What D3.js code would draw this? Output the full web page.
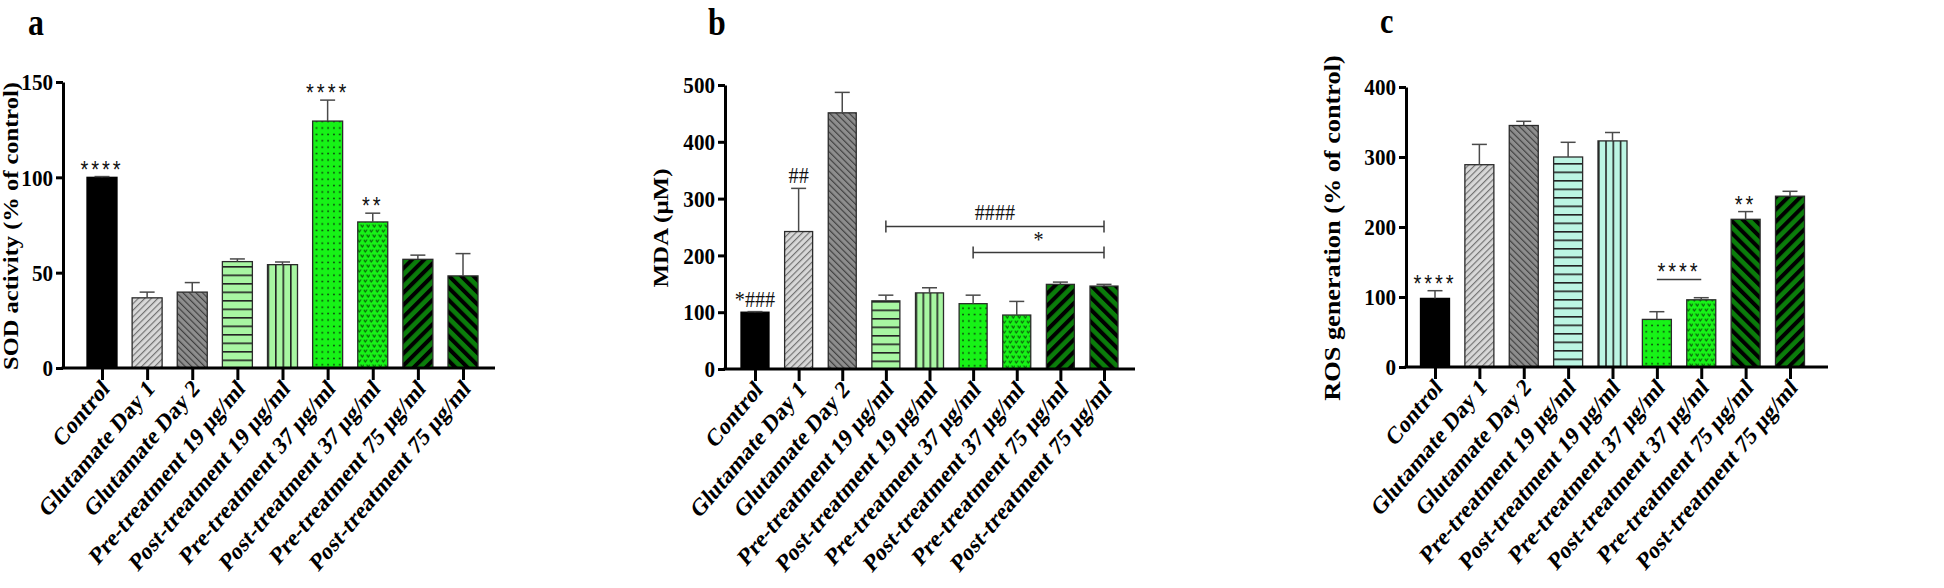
<!DOCTYPE html>
<html><head><meta charset="utf-8">
<script src="https://cdn.jsdelivr.net/npm/d3@7/dist/d3.min.js"></script>
<style>
html,body{margin:0;padding:0;background:#fff;}
svg{display:block;}
</style></head>
<body>
<svg id="chart" width="1944" height="588"></svg>
<script>
// ---------------- DATA ----------------
const categories = ["Control","Glutamate Day 1","Glutamate Day 2",
  "Pre-treatment 19 μg/ml","Post-treatment 19 μg/ml",
  "Pre-treatment 37 μg/ml","Post-treatment 37 μg/ml",
  "Pre-treatment 75 μg/ml","Post-treatment 75 μg/ml"];

const sodMean = [100, 36.8, 39.8, 55.8, 54.2, 129.5, 76.6, 57.0, 48.3];
const sodErr  = [0.4, 3.0, 5.0, 1.4, 1.4, 11.0, 4.6, 2.2, 11.7];

const mdaMean = [100, 242, 451, 120, 134, 115, 95, 149, 146];
const mdaErr  = [1, 76, 36, 10, 9, 15, 24, 4, 3];

const rosMean = [98, 289, 345, 300, 323, 68, 96, 211, 244];
const rosErr  = [11, 29, 6, 21, 12, 11, 3, 11, 7];

const sodTicks = [0, 50, 100, 150];
const mdaTicks = [0, 100, 200, 300, 400, 500];
const rosTicks = [0, 100, 200, 300, 400];

const panelLetters = ["a", "b", "c"];
const yTitles = ["SOD activity (% of control)", "MDA (μM)", "ROS generation (% of control)"];

// significance marks above single bars
const sodMarks = [{cat: 0, text: "****"}, {cat: 5, text: "****"}, {cat: 6, text: "**"}];
const mdaMarks = [{cat: 0, text: "*###"}, {cat: 1, text: "##"}];
const rosMarks = [{cat: 0, text: "****"}, {cat: 7, text: "**"}];
// bracket marks: from category, to category, level (data units)
const sodBrackets = [];
const mdaBrackets = [{from: 3, to: 8, level: 251, text: "####"}, {from: 5, to: 8, level: 205, text: "*"}];
const rosBrackets = [{from: 5, to: 6, level: 125, text: "****"}];

// ---------------- LAYOUT / STYLE ----------------
const SQ = 0.84; // horizontal squish of the figure's text
const serif = "'Liberation Serif','Times New Roman',Times,serif";
const sans = "'Liberation Sans',Arial,sans-serif";

const panels = [
  {mean: sodMean, err: sodErr, ticks: sodTicks, max: 150, marks: sodMarks, brackets: sodBrackets,
   axisX: 63, xEnd: 495, y0: 368, yTop: 82, first: 102, last: 463, barW: 30,
   titleX: 18, titleSize: 24.5, letterX: 28, letterY: 35, letterSize: 38, light: "#a8f6a2", markFont: "sans",
   kinds: ["solid","diagUp","diagDown","hlines","vlines","dots","hearts","stripeUp","stripeDown"]},
  {mean: mdaMean, err: mdaErr, ticks: mdaTicks, max: 500, marks: mdaMarks, brackets: mdaBrackets,
   axisX: 725, xEnd: 1135, y0: 369, yTop: 85, first: 755, last: 1104, barW: 28,
   titleX: 668, titleSize: 25, letterX: 708, letterY: 35, letterSize: 38, light: "#a8f6a2", markFont: "serif",
   kinds: ["solid","diagUp","diagDown","hlines","vlines","dots","hearts","stripeUp","stripeDown"]},
  {mean: rosMean, err: rosErr, ticks: rosTicks, max: 400, marks: rosMarks, brackets: rosBrackets,
   axisX: 1406, xEnd: 1828, y0: 367, yTop: 87, first: 1435, last: 1790, barW: 29,
   titleX: 1340, titleSize: 26.3, letterX: 1380, letterY: 33, letterSize: 36, light: "#bcf5e3", markFont: "sans",
   kinds: ["solid","diagUp","diagDown","hlines","vlines","dots","hearts","stripeDown","stripeUp"]}
];

const BRIGHT = "#17f317", DARK = "#0b7d0b";

const svg = d3.select("#chart");
const defs = svg.append("defs");

function makePattern(id, kind, bx, by, bw, light) {
  const p = defs.append("pattern").attr("id", id).attr("patternUnits", "userSpaceOnUse");
  if (kind === "diagUp" || kind === "diagDown") {
    const s = 4.6;
    const up = kind === "diagUp";
    p.attr("width", s).attr("height", s).attr("patternTransform", `rotate(${up ? 45 : -45})`);
    p.append("rect").attr("width", s).attr("height", s).attr("fill", up ? "#d8d8d8" : "#8e8e8e");
    p.append("line").attr("x1", 0.6).attr("x2", 0.6).attr("y1", -1).attr("y2", s + 1)
      .attr("stroke", up ? "#6c6c6c" : "#3a3a3a").attr("stroke-width", 1.1);
  } else if (kind === "hlines") {
    const s = 8.5;
    p.attr("x", bx).attr("y", by).attr("width", 20).attr("height", s);
    p.append("rect").attr("width", 20).attr("height", s).attr("fill", light);
    p.append("line").attr("x1", 0).attr("x2", 20).attr("y1", 0.8).attr("y2", 0.8)
      .attr("stroke", "#222").attr("stroke-width", 1.6);
  } else if (kind === "vlines") {
    const s = bw / 4;
    p.attr("x", bx).attr("y", 0).attr("width", s).attr("height", 10);
    p.append("rect").attr("width", s).attr("height", 10).attr("fill", light);
    p.append("line").attr("x1", 0.8).attr("x2", 0.8).attr("y1", 0).attr("y2", 10)
      .attr("stroke", "#222").attr("stroke-width", 1.6);
  } else if (kind === "dots") {
    p.attr("x", bx + 1).attr("y", by).attr("width", 5.8).attr("height", 6.4);
    p.append("rect").attr("width", 5.8).attr("height", 6.4).attr("fill", BRIGHT);
    p.append("circle").attr("cx", 2.9).attr("cy", 3.2).attr("r", 0.95).attr("fill", "#0c3f0c");
  } else if (kind === "hearts") {
    p.attr("x", bx).attr("y", by).attr("width", 6).attr("height", 10);
    p.append("rect").attr("width", 6).attr("height", 10).attr("fill", BRIGHT);
    const heart = "M-1.7,-1 L0,1.6 L1.7,-1";
    [[1.5, 2.5], [4.5, 7.5]].forEach(([hx, hy]) => {
      p.append("path").attr("d", heart).attr("transform", `translate(${hx},${hy})`)
        .attr("fill", "none").attr("stroke", "#0b5a0b").attr("stroke-width", 1.1);
    });
  } else if (kind === "stripeUp" || kind === "stripeDown") {
    const s = 8.6;
    p.attr("width", s).attr("height", s)
      .attr("patternTransform", `rotate(${kind === "stripeUp" ? 45 : -45})`);
    p.append("rect").attr("width", s).attr("height", s).attr("fill", DARK);
    p.append("rect").attr("width", 4).attr("height", s).attr("fill", "#000");
  }
  return `url(#${id})`;
}

panels.forEach((P, pi) => {
  const g = svg.append("g");
  const y = d3.scaleLinear().domain([0, P.max]).range([P.y0, P.yTop]);
  const x = d3.scalePoint().domain(categories).range([P.first, P.last]);

  // panel letter
  g.append("text").text(panelLetters[pi])
    .attr("transform", `translate(${P.letterX},${P.letterY}) scale(${SQ},1)`)
    .attr("font-family", serif).attr("font-weight", "bold").attr("font-size", P.letterSize).attr("fill", "#000");

  // y title
  g.append("text").text(yTitles[pi])
    .attr("transform", `translate(${P.titleX},${(P.y0 + P.yTop) / 2 + 1}) scale(${SQ},1) rotate(-90)`)
    .attr("text-anchor", "middle")
    .attr("font-family", serif).attr("font-weight", "bold").attr("font-size", P.titleSize).attr("fill", "#000");

  // bars
  const data = categories.map((c, i) => ({c, i, v: P.mean[i], e: P.err[i]}));
  data.forEach(d => {
    const bx = x(d.c) - P.barW / 2;
    const kind = P.kinds[d.i];
    const fill = kind === "solid" ? "#000" :
      makePattern(`p${pi}_${d.i}`, kind, bx, P.y0, P.barW, P.light);
    d.fill = fill; d.bx = bx;
  });

  g.selectAll("rect.bar").data(data).join("rect").attr("class", "bar")
    .attr("x", d => d.bx).attr("y", d => y(d.v))
    .attr("width", P.barW).attr("height", d => P.y0 - y(d.v))
    .attr("fill", d => d.fill)
    .attr("stroke", d => d.i === 0 ? "#000" : "#2b2b2b").attr("stroke-width", 1.3);

  // error bars (upper only)
  const eg = g.append("g").attr("stroke", "#4a4a4a").attr("stroke-width", 1.5);
  eg.selectAll("line.stem").data(data).join("line").attr("class", "stem")
    .attr("x1", d => x(d.c)).attr("x2", d => x(d.c))
    .attr("y1", d => y(d.v)).attr("y2", d => y(d.v + d.e));
  eg.selectAll("line.cap").data(data).join("line").attr("class", "cap")
    .attr("x1", d => x(d.c) - 7.5).attr("x2", d => x(d.c) + 7.5)
    .attr("y1", d => y(d.v + d.e)).attr("y2", d => y(d.v + d.e));

  // y axis
  const TSQ = 0.88;
  const ya = g.append("g").attr("transform", `translate(${P.axisX},0)`)
    .call(d3.axisLeft(y).tickValues(P.ticks).tickSize(7).tickSizeOuter(0).tickPadding(3));
  ya.select(".domain").attr("stroke", "#000").attr("stroke-width", 3);
  ya.selectAll(".tick line").attr("stroke", "#000").attr("stroke-width", 3);
  ya.selectAll(".tick text")
    .attr("x", -10 / TSQ).attr("transform", `scale(${TSQ},1)`)
    .attr("font-family", serif).attr("font-weight", "bold").attr("font-size", 24).attr("fill", "#000");

  // x axis
  const xa = g.append("g").attr("transform", `translate(0,${P.y0})`)
    .call(d3.axisBottom(x).tickSize(12).tickSizeOuter(0));
  xa.select(".domain").remove();
  xa.append("line").attr("x1", P.axisX - 1.5).attr("x2", P.xEnd).attr("y1", 0).attr("y2", 0)
    .attr("stroke", "#000").attr("stroke-width", 3);
  xa.selectAll(".tick line").attr("stroke", "#000").attr("stroke-width", 3);
  xa.selectAll(".tick text")
    .attr("y", 0).attr("dy", null).attr("x", 0)
    .attr("text-anchor", "end")
    .attr("transform", `translate(8,22) scale(${SQ},1) rotate(-45)`)
    .attr("font-family", serif).attr("font-weight", "bold").attr("font-size", 25).attr("fill", "#000");

  // marks above bars
  const isSans = P.markFont === "sans";
  P.marks.forEach(m => {
    const top = y(P.mean[m.cat] + P.err[m.cat]);
    g.append("text").text(m.text)
      .attr("transform", `translate(${x(categories[m.cat])},${isSans ? top + 1 : top - 5}) scale(${SQ},1)`)
      .attr("text-anchor", "middle")
      .attr("font-family", isSans ? sans : serif)
      .attr("font-size", 24)
      .attr("letter-spacing", isSans ? 3.5 : 0)
      .attr("fill", "#111");
  });

  // brackets
  P.brackets.forEach(b => {
    const x1 = x(categories[b.from]), x2 = x(categories[b.to]);
    const yy = y(b.level);
    const bg = g.append("g").attr("stroke", "#3a3a3a").attr("stroke-width", 1.5);
    bg.append("line").attr("x1", x1).attr("x2", x2).attr("y1", yy).attr("y2", yy);
    if (!isSans) {
      bg.append("line").attr("x1", x1).attr("x2", x1).attr("y1", yy - 6).attr("y2", yy + 6);
      bg.append("line").attr("x1", x2).attr("x2", x2).attr("y1", yy - 6).attr("y2", yy + 6);
    }
    g.append("text").text(b.text)
      .attr("transform", `translate(${(x1 + x2) / 2},${isSans ? yy : yy - 6}) scale(${SQ},1)`)
      .attr("text-anchor", "middle")
      .attr("font-family", isSans ? sans : serif)
      .attr("font-size", 24)
      .attr("letter-spacing", isSans ? 3.5 : 0)
      .attr("fill", "#111");
  });
});
</script>
</body></html>
